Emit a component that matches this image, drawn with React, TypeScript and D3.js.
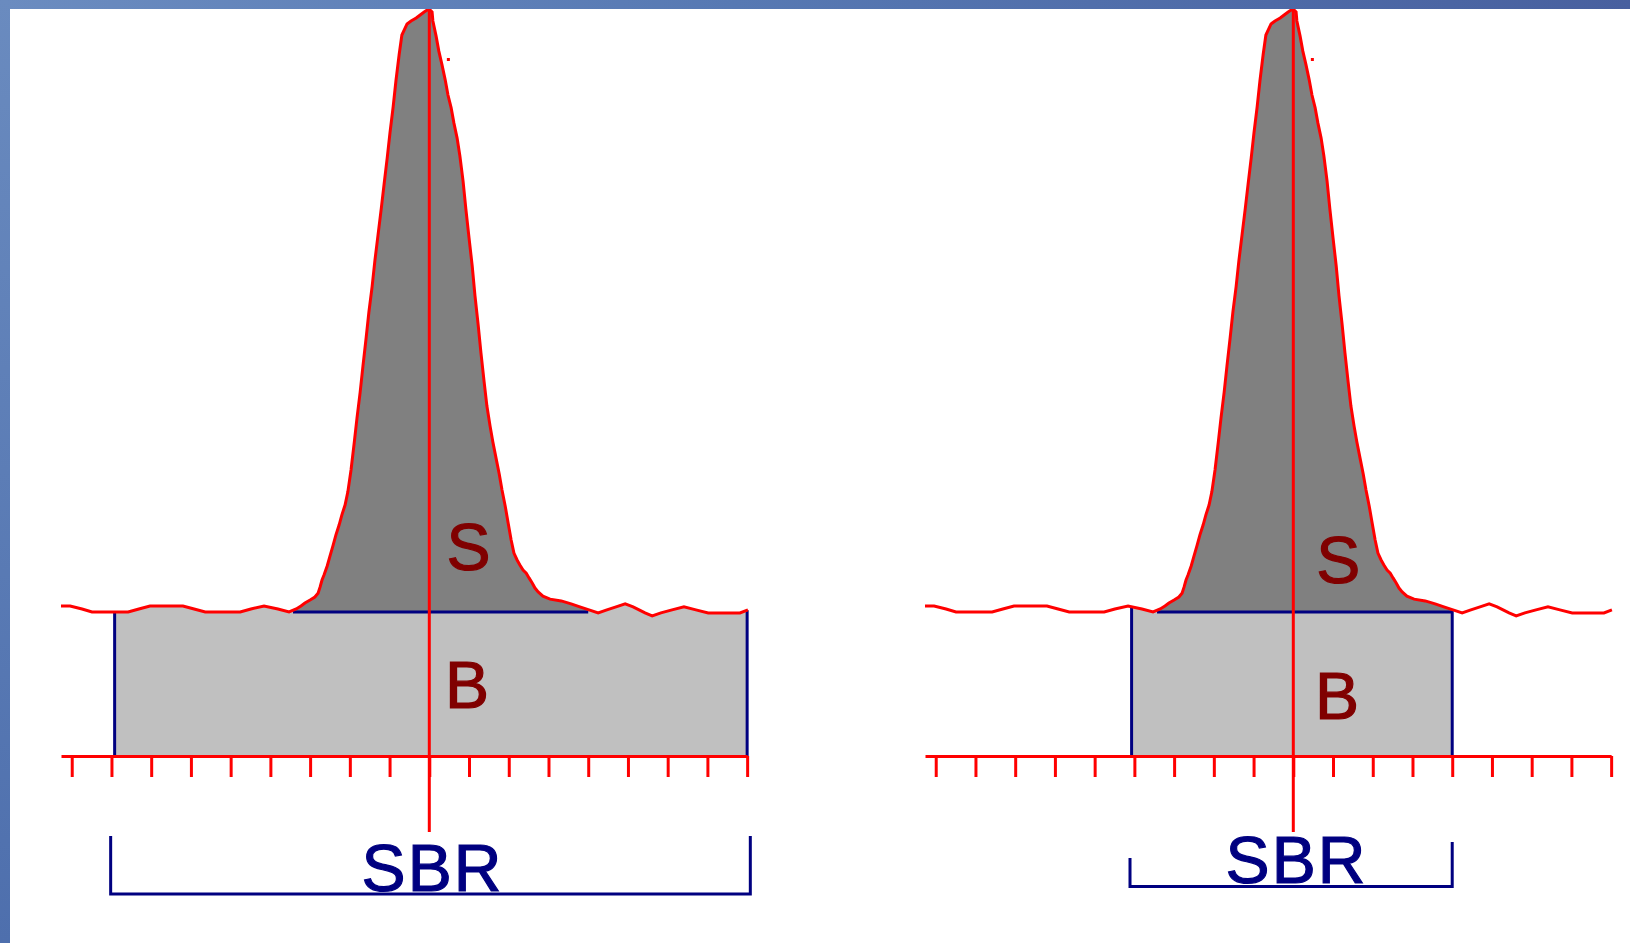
import React, { useEffect, useRef } from "react";
import * as d3 from "d3";

// time in scan units (one tick = 1), intensity in detector counts (0 = axis)
const tickValues = d3.range(0, 18);

const noiseBefore = [
  [-0.27, 50.2], [-0.04, 50.2], [0.26, 49.2], [0.51, 48.2], [1.42, 48.2],
  [1.69, 49.2], [1.97, 50.2], [2.8, 50.2], [3.08, 49.2], [3.36, 48.2],
  [4.24, 48.2], [4.51, 49.2], [4.84, 50.2], [5.19, 49.2], [5.47, 48.2],
];

const peakRise = [
  [5.65, 49.2], [5.77, 50.2], [5.87, 51.2], [6.0, 52.2], [6.12, 53.2],
  [6.2, 54.5], [6.25, 56.5], [6.3, 58.9], [6.35, 60.6], [6.43, 63.6],
  [6.5, 66.9], [6.58, 70.6], [6.65, 74.0], [6.73, 77.3], [6.8, 80.7],
  [6.88, 84.0], [6.95, 88.4], [7.03, 95.7], [7.11, 104.8], [7.18, 113.1],
  [7.26, 121.8], [7.33, 130.5], [7.41, 139.9], [7.48, 148.6], [7.56, 157.0],
  [7.63, 165.7], [7.71, 174.4], [7.79, 183.1], [7.86, 191.1], [7.94, 200.1],
  [8.01, 208.5], [8.09, 217.2], [8.16, 225.9], [8.24, 234.6], [8.31, 241.3],
  [8.44, 245.0], [8.54, 246.0], [8.67, 247.0], [8.77, 248.0], [8.87, 249.0],
  [8.99, 250.0],
];

const peakFall = [
  [9.07, 249.0], [9.09, 246.0], [9.17, 241.0], [9.24, 235.9], [9.32, 231.3],
  [9.4, 226.3], [9.47, 221.2], [9.55, 216.9], [9.62, 211.8], [9.7, 206.8],
  [9.77, 200.8], [9.85, 192.4], [9.92, 183.1], [10.0, 173.4], [10.08, 164.0],
  [10.15, 154.0], [10.23, 144.3], [10.3, 134.9], [10.38, 125.2], [10.45, 117.1],
  [10.53, 110.4], [10.6, 105.1], [10.68, 99.7], [10.76, 94.4], [10.83, 89.0],
  [10.91, 83.7], [10.98, 78.3], [11.06, 72.3], [11.13, 67.9], [11.21, 65.6],
  [11.28, 63.9], [11.36, 62.2], [11.44, 61.2], [11.51, 59.6], [11.59, 57.9],
  [11.66, 56.2], [11.74, 54.9], [11.86, 53.5], [12.04, 52.5], [12.32, 51.9],
  [12.57, 50.9], [12.79, 49.9], [13.02, 48.9], [13.25, 47.9],
];

const noiseAfter = [
  [13.47, 48.9], [13.7, 49.9], [13.93, 50.9], [14.13, 49.9], [14.28, 48.9],
  [14.43, 47.9], [14.61, 46.9], [14.83, 47.9], [15.11, 48.9], [15.41, 49.9],
  [15.71, 48.9], [16.02, 47.9], [16.82, 47.9], [17.02, 48.9],
];

// stray pixel right of the apex
const stray = [[9.48, 233.1]];

const baselineLevel = 48.2;
const peakStart = 5.57;
const peakEnd = 13.0;
const apex = 9;

// integration windows, wide and narrow
const windowStart = [1.08, 4.93];
const windowEnd = [17.0, 13.0];

// label anchors [t, intensity]
const sLabel = [[9.99, 62.2], [10.13, 57.9]];
const bLabel = [[9.95, 16.1], [10.1, 12.5]];
const sbrLabel = [[9.08, -45.2], [9.08, -42.4]];
const bracketStart = [0.98, 4.89];
const bracketEnd = [17.08, 13.0];
const bracketTopLeft = [-26.8, -34.1];
const bracketTopRight = [-26.8, -28.8];
const bracketBottom = [-46.2, -43.7];
const centerLineEnd = -25.4;

const trace = [...noiseBefore, ...peakRise, ...peakFall, ...noiseAfter];

function valueAt(t) {
  for (let i = 1; i < trace.length; i++) {
    if (trace[i][0] >= t) {
      const [t0, v0] = trace[i - 1];
      const [t1, v1] = trace[i];
      return v0 + ((v1 - v0) * (t - t0)) / (t1 - t0);
    }
  }
  return trace[trace.length - 1][1];
}

const W = 1630;
const H = 943;
const panelLeft = [61, 925];
const tickStep = 39.73;

export default function App() {
  const ref = useRef(null);

  useEffect(() => {
    const svg = d3.select(ref.current);
    svg.selectAll("*").remove();

    const defs = svg.append("defs");
    const topGrad = defs.append("linearGradient").attr("id", "topbar");
    topGrad.append("stop").attr("offset", "0%").attr("stop-color", "#6b8cc0");
    topGrad.append("stop").attr("offset", "45%").attr("stop-color", "#5779b3");
    topGrad.append("stop").attr("offset", "100%").attr("stop-color", "#48609f");
    const sideGrad = defs
      .append("linearGradient")
      .attr("id", "sidebar")
      .attr("x1", 0).attr("y1", 0).attr("x2", 0).attr("y2", 1);
    sideGrad.append("stop").attr("offset", "0%").attr("stop-color", "#6a8bbf");
    sideGrad.append("stop").attr("offset", "100%").attr("stop-color", "#4e6fad");

    svg.append("rect").attr("width", W).attr("height", H).attr("fill", "#ffffff");

    const y = d3.scaleLinear().domain([0, 250]).range([756, 9]);
    const font = "'Liberation Sans', Arial, sans-serif";

    panelLeft.forEach((left, p) => {
      const x = d3
        .scaleLinear()
        .domain([-0.27, 17])
        .range([left, left + 17.27 * tickStep]);
      const g = svg.append("g");

      // light grey: area under the trace inside the integration window
      const w0 = windowStart[p];
      const w1 = windowEnd[p];
      const boxPts = [
        [w0, valueAt(w0)],
        ...trace.filter((d) => d[0] > w0 && d[0] < w1),
        [w1, valueAt(w1)],
      ];
      g.append("path")
        .attr("d", d3.area().x((d) => x(d[0])).y0(y(0)).y1((d) => y(d[1]))(boxPts))
        .attr("fill", "#c0c0c0");

      // dark grey: signal above the baseline
      const peakPts = [
        [peakStart, baselineLevel],
        ...trace.filter((d) => d[0] > peakStart && d[0] < peakEnd),
        [peakEnd, valueAt(peakEnd)],
      ];
      g.append("path")
        .attr(
          "d",
          d3
            .area()
            .x((d) => x(d[0]))
            .y0(y(baselineLevel))
            .y1((d) => y(Math.max(d[1], baselineLevel)))(peakPts)
        )
        .attr("fill", "#808080");

      // baseline and window edges
      g.append("line")
        .attr("x1", x(peakStart)).attr("x2", x(peakEnd))
        .attr("y1", y(baselineLevel)).attr("y2", y(baselineLevel))
        .attr("stroke", "#000080").attr("stroke-width", 3);
      [w0, w1].forEach((t) => {
        g.append("line")
          .attr("x1", x(t)).attr("x2", x(t))
          .attr("y1", y(valueAt(t))).attr("y2", y(0))
          .attr("stroke", "#000080").attr("stroke-width", 3);
      });

      // trace
      g.append("path")
        .attr("d", d3.line().x((d) => x(d[0])).y((d) => y(d[1]))(trace))
        .attr("fill", "none")
        .attr("stroke", "#ff0000")
        .attr("stroke-width", 3);
      g.selectAll(".stray")
        .data(stray)
        .enter()
        .append("rect")
        .attr("x", (d) => x(d[0]) - 1.5)
        .attr("y", (d) => y(d[1]) - 1.5)
        .attr("width", 3)
        .attr("height", 3)
        .attr("fill", "#ff0000");

      // time axis
      const axis = g
        .append("g")
        .attr("transform", `translate(0,${y(0)})`)
        .call(
          d3
            .axisBottom(x)
            .tickValues(tickValues)
            .tickSize(21)
            .tickSizeOuter(0)
            .tickFormat(() => "")
        );
      axis.select(".domain").attr("stroke", "#ff0000").attr("stroke-width", 3);
      axis.selectAll(".tick line").attr("stroke", "#ff0000").attr("stroke-width", 3);

      // apex line
      g.append("line")
        .attr("x1", x(apex)).attr("x2", x(apex))
        .attr("y1", y(250)).attr("y2", y(centerLineEnd))
        .attr("stroke", "#ff0000").attr("stroke-width", 3);

      // S and B labels
      [["S", sLabel[p]], ["B", bLabel[p]]].forEach(([txt, pos]) => {
        g.append("text")
          .attr("x", x(pos[0]))
          .attr("y", y(pos[1]))
          .attr("text-anchor", "middle")
          .attr("font-family", font)
          .attr("font-size", 66)
          .attr("fill", "#800000")
          .attr("stroke", "#800000")
          .attr("stroke-width", 1.2)
          .text(txt);
      });

      // SBR bracket
      g.append("path")
        .attr(
          "d",
          `M${x(bracketStart[p])},${y(bracketTopLeft[p])}V${y(bracketBottom[p])}H${x(
            bracketEnd[p]
          )}V${y(bracketTopRight[p])}`
        )
        .attr("fill", "none")
        .attr("stroke", "#000080")
        .attr("stroke-width", 3);
      g.append("text")
        .attr("x", x(sbrLabel[p][0]))
        .attr("y", y(sbrLabel[p][1]))
        .attr("text-anchor", "middle")
        .attr("font-family", font)
        .attr("font-size", 66)
        .attr("letter-spacing", 2)
        .attr("fill", "#000080")
        .attr("stroke", "#000080")
        .attr("stroke-width", 1.2)
        .text("SBR");
    });

    // slide frame
    svg.append("rect").attr("x", 0).attr("y", 0).attr("width", W).attr("height", 9).attr("fill", "url(#topbar)");
    svg.append("rect").attr("x", 0).attr("y", 0).attr("width", 10).attr("height", H).attr("fill", "url(#sidebar)");
  }, []);

  return (
    <div style={{ position: "fixed", left: 0, top: 0 }}>
      <svg ref={ref} width={W} height={H} style={{ display: "block" }} />
    </div>
  );
}
